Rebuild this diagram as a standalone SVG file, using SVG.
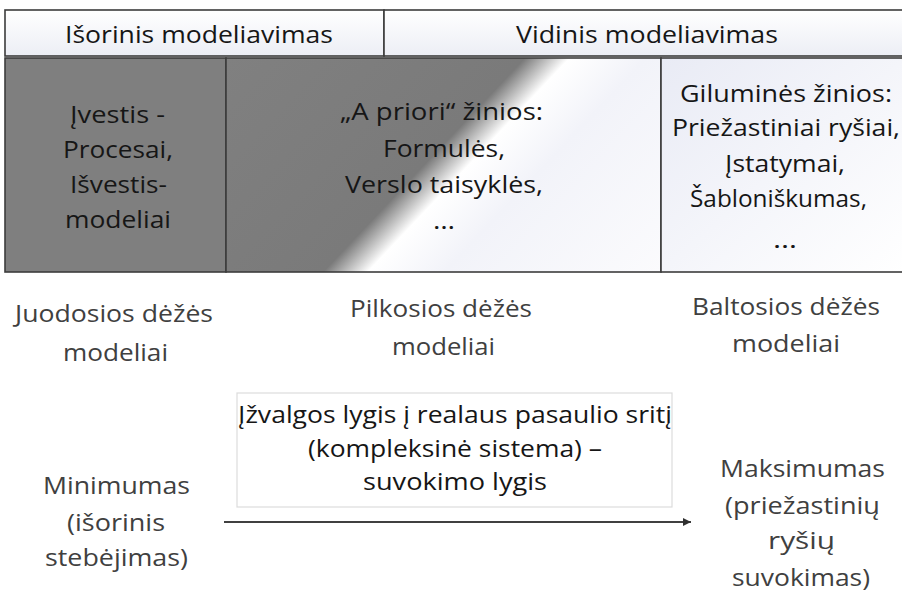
<svg xmlns="http://www.w3.org/2000/svg" width="902" height="594" viewBox="0 0 902 594">
<defs>
<linearGradient id="hdr" x1="0" y1="0" x2="0" y2="1">
<stop offset="0" stop-color="#ffffff"/>
<stop offset="1" stop-color="#eceef5"/>
</linearGradient>
<linearGradient id="grey" gradientUnits="userSpaceOnUse" x1="269" y1="12" x2="606" y2="330">
<stop offset="0" stop-color="#808080"/>
<stop offset="0.47" stop-color="#7a7a7a"/>
<stop offset="0.54" stop-color="#ffffff"/>
<stop offset="0.66" stop-color="#f2f3f9"/>
<stop offset="1" stop-color="#fbfbfd"/>
</linearGradient>
<linearGradient id="white" x1="0" y1="0" x2="1" y2="1">
<stop offset="0" stop-color="#e9ebf5"/>
<stop offset="1" stop-color="#ffffff"/>
</linearGradient>
<marker id="arr" viewBox="0 0 10 10" refX="10" refY="5" markerWidth="10" markerHeight="8" markerUnits="userSpaceOnUse" orient="auto">
<path d="M0,0 L10,5 L0,10 z" fill="#303030"/>
</marker>
</defs>
<style>
text{font-family:"Open Sans","Liberation Sans",sans-serif;font-size:24px;}
.in{fill:#161616;}
.out{fill:#404040;}
.cell{stroke:#3c3c3c;stroke-width:1.6;}
</style>
<rect width="902" height="594" fill="#ffffff"/>

<g id="header-external">
<rect class="cell" x="5" y="10" width="379" height="46" fill="url(#hdr)"/>
<text class="in" x="65" y="43" textLength="268" lengthAdjust="spacingAndGlyphs">Išorinis modeliavimas</text>
</g>
<g id="header-internal">
<rect class="cell" x="384" y="10" width="522" height="46" fill="url(#hdr)"/>
<text class="in" x="516" y="43" textLength="262" lengthAdjust="spacingAndGlyphs">Vidinis modeliavimas</text>
</g>

<g id="box-black">
<rect class="cell" x="5" y="58" width="221" height="214" fill="#7f7f7f"/>
<text class="in" x="70" y="123" textLength="95" lengthAdjust="spacingAndGlyphs">Įvestis -</text>
<text class="in" x="63" y="158" textLength="110" lengthAdjust="spacingAndGlyphs">Procesai,</text>
<text class="in" x="70" y="193" textLength="97" lengthAdjust="spacingAndGlyphs">Išvestis-</text>
<text class="in" x="65" y="228" textLength="106" lengthAdjust="spacingAndGlyphs">modeliai</text>
</g>

<g id="box-grey">
<rect class="cell" x="226" y="58" width="435" height="214" fill="url(#grey)"/>
<text class="in" x="340" y="120" textLength="203" lengthAdjust="spacingAndGlyphs">„A priori“ žinios:</text>
<text class="in" x="383" y="157" textLength="122" lengthAdjust="spacingAndGlyphs">Formulės,</text>
<text class="in" x="345" y="193" textLength="198" lengthAdjust="spacingAndGlyphs">Verslo taisyklės,</text>
<text class="in" x="433" y="229" textLength="22" lengthAdjust="spacingAndGlyphs">…</text>
</g>

<g id="box-white">
<rect class="cell" x="661" y="58" width="245" height="214" fill="url(#white)"/>
<text class="in" x="680" y="102" textLength="212" lengthAdjust="spacingAndGlyphs">Giluminės žinios:</text>
<text class="in" x="672" y="136" textLength="228" lengthAdjust="spacingAndGlyphs">Priežastiniai ryšiai,</text>
<text class="in" x="725" y="172" textLength="120" lengthAdjust="spacingAndGlyphs">Įstatymai,</text>
<text class="in" x="690" y="207" textLength="177" lengthAdjust="spacingAndGlyphs">Šabloniškumas,</text>
<text class="in" x="773" y="248" textLength="24" lengthAdjust="spacingAndGlyphs">…</text>
</g>

<g id="label-black">
<text class="out" x="15" y="322" textLength="198" lengthAdjust="spacingAndGlyphs">Juodosios dėžės</text>
<text class="out" x="63" y="361" textLength="105" lengthAdjust="spacingAndGlyphs">modeliai</text>
</g>
<g id="label-grey">
<text class="out" x="350" y="317" textLength="182" lengthAdjust="spacingAndGlyphs">Pilkosios dėžės</text>
<text class="out" x="392" y="355" textLength="103" lengthAdjust="spacingAndGlyphs">modeliai</text>
</g>
<g id="label-white">
<text class="out" x="692" y="315" textLength="188" lengthAdjust="spacingAndGlyphs">Baltosios dėžės</text>
<text class="out" x="732" y="352" textLength="108" lengthAdjust="spacingAndGlyphs">modeliai</text>
</g>

<g id="insight-box">
<rect x="237" y="393" width="435" height="114" fill="#ffffff" stroke="#dcdcdc" stroke-width="1.2"/>
<text class="in" x="238" y="423" textLength="434" lengthAdjust="spacingAndGlyphs">Įžvalgos lygis į realaus pasaulio sritį</text>
<text class="in" x="308" y="457" textLength="294" lengthAdjust="spacingAndGlyphs">(kompleksinė sistema) –</text>
<text class="in" x="363" y="490" textLength="184" lengthAdjust="spacingAndGlyphs">suvokimo lygis</text>
</g>

<g id="min-label">
<text class="out" x="43" y="494" textLength="147" lengthAdjust="spacingAndGlyphs">Minimumas</text>
<text class="out" x="67" y="531" textLength="98" lengthAdjust="spacingAndGlyphs">(išorinis</text>
<text class="out" x="45" y="566" textLength="143" lengthAdjust="spacingAndGlyphs">stebėjimas)</text>
</g>

<g id="max-label">
<text class="out" x="720" y="477" textLength="165" lengthAdjust="spacingAndGlyphs">Maksimumas</text>
<text class="out" x="725" y="514" textLength="155" lengthAdjust="spacingAndGlyphs">(priežastinių</text>
<text class="out" x="768" y="549" textLength="67" lengthAdjust="spacingAndGlyphs">ryšių</text>
<text class="out" x="732" y="586" textLength="138" lengthAdjust="spacingAndGlyphs">suvokimas)</text>
</g>

<g id="connectors">
<line x1="224" y1="522" x2="691" y2="522" stroke="#404040" stroke-width="2" marker-end="url(#arr)"/>
</g>
</svg>
